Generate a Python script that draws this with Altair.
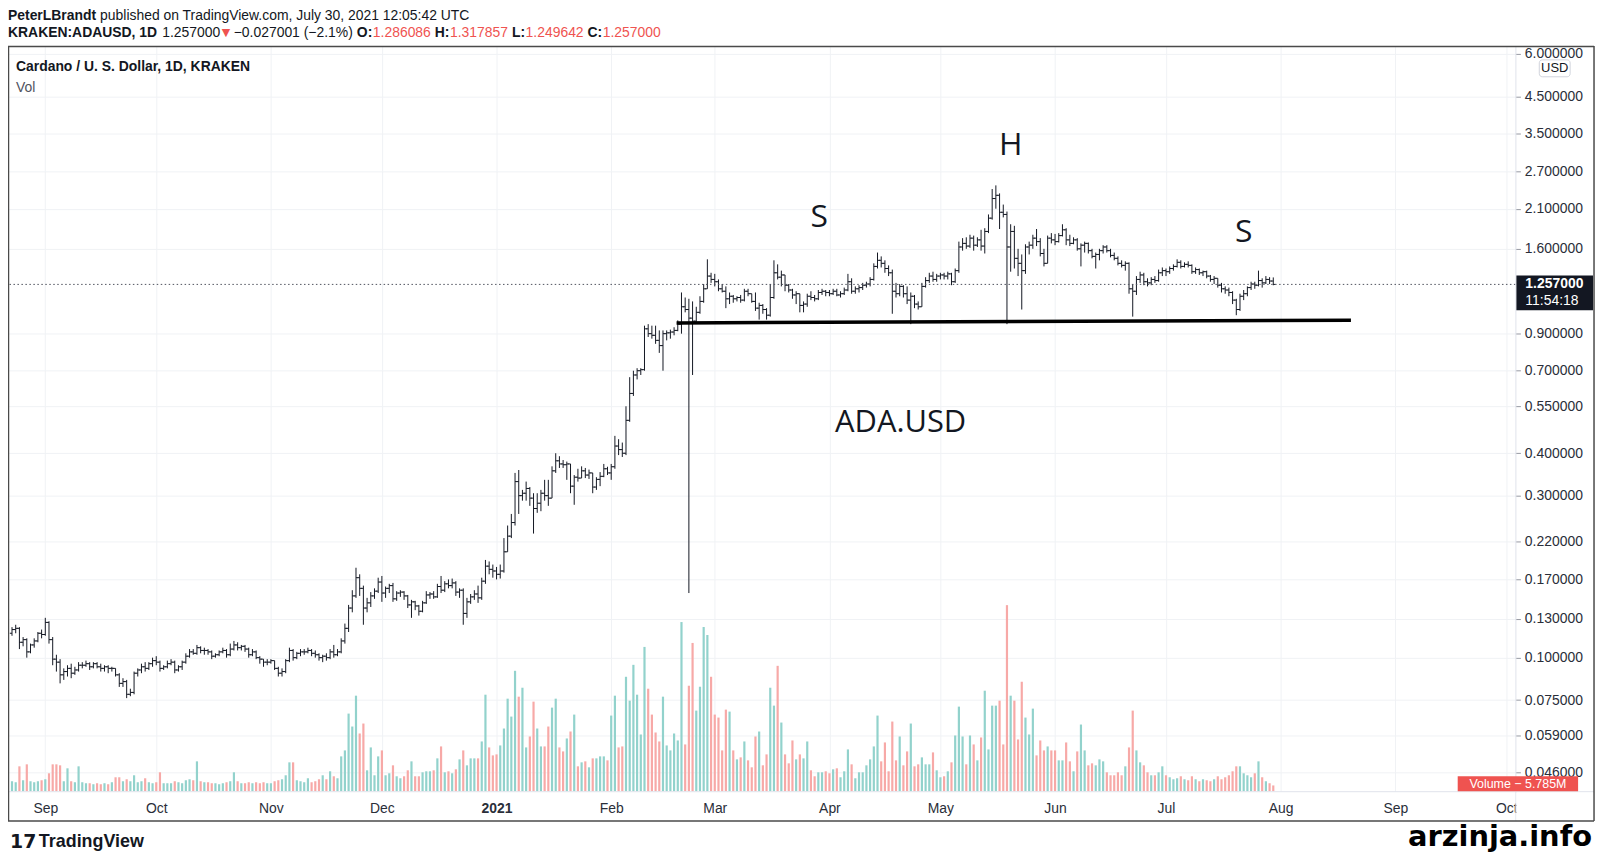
import altair as alt
import pandas as pd

# ---------------- values ----------------
START_DATE = "2020-08-23"
FIRST_OPEN = 0.118

CLOSE = [
    # Aug 23-31 2020
    0.121, 0.122, 0.111, 0.113, 0.104, 0.109, 0.112, 0.118, 0.117,
    # Sep
    0.127, 0.113, 0.099, 0.097, 0.089, 0.091, 0.093, 0.090, 0.092, 0.095,
    0.095, 0.096, 0.094, 0.096, 0.094, 0.093, 0.094, 0.093, 0.093, 0.089,
    0.084, 0.085, 0.078, 0.079, 0.090, 0.092, 0.094, 0.093, 0.096, 0.098,
    # Oct
    0.097, 0.093, 0.094, 0.096, 0.097, 0.092, 0.094, 0.097, 0.101, 0.104,
    0.103, 0.107, 0.105, 0.105, 0.104, 0.101, 0.102, 0.104, 0.105, 0.102,
    0.106, 0.109, 0.107, 0.108, 0.106, 0.102, 0.104, 0.100, 0.099, 0.097, 0.097,
    # Nov
    0.098, 0.093, 0.090, 0.091, 0.098, 0.105, 0.100, 0.103, 0.104, 0.104,
    0.105, 0.103, 0.102, 0.100, 0.101, 0.100, 0.104, 0.102, 0.104, 0.112,
    0.122, 0.140, 0.152, 0.172, 0.160, 0.140, 0.145, 0.152, 0.157, 0.167,
    # Dec
    0.155, 0.160, 0.163, 0.149, 0.155, 0.156, 0.152, 0.143, 0.146, 0.142,
    0.137, 0.145, 0.153, 0.154, 0.151, 0.162, 0.158, 0.165, 0.163, 0.166,
    0.156, 0.158, 0.135, 0.146, 0.151, 0.154, 0.150, 0.168, 0.186, 0.182, 0.180,
    # Jan 2021
    0.176, 0.180, 0.205, 0.228, 0.250, 0.330, 0.300, 0.305, 0.315, 0.295,
    0.275, 0.285, 0.305, 0.300, 0.295, 0.355, 0.380, 0.372, 0.370, 0.372,
    0.320, 0.340, 0.338, 0.355, 0.345, 0.350, 0.318, 0.335, 0.342, 0.360, 0.350,
    # Feb
    0.365, 0.420, 0.410, 0.400, 0.500, 0.600, 0.680, 0.700, 0.705, 0.930,
    0.900, 0.890, 0.860, 0.830, 0.900, 0.905, 0.910, 0.920, 0.960, 1.080,
    1.060, 1.000, 0.980, 1.040, 1.120, 1.220, 1.330, 1.300,
    # Mar
    1.28, 1.22, 1.20, 1.14, 1.16, 1.14, 1.15, 1.13, 1.20, 1.18,
    1.12, 1.07, 1.09, 1.06, 1.02, 1.15, 1.36, 1.32, 1.34, 1.25,
    1.21, 1.17, 1.18, 1.09, 1.10, 1.16, 1.15, 1.14, 1.19, 1.20, 1.19,
    # Apr
    1.18, 1.20, 1.17, 1.18, 1.21, 1.28, 1.20, 1.22, 1.23, 1.25,
    1.26, 1.30, 1.42, 1.48, 1.45, 1.40, 1.36, 1.20, 1.18, 1.24,
    1.18, 1.13, 1.16, 1.10, 1.08, 1.24, 1.29, 1.33, 1.30, 1.33,
    # May
    1.34, 1.33, 1.35, 1.28, 1.38, 1.62, 1.66, 1.63, 1.72, 1.64,
    1.70, 1.63, 1.80, 1.97, 2.25, 2.30, 2.05, 2.02, 1.62, 1.80,
    1.50, 1.45, 1.38, 1.62, 1.64, 1.72, 1.68, 1.55, 1.45, 1.72, 1.70,
    # Jun
    1.68, 1.75, 1.82, 1.70, 1.66, 1.70, 1.60, 1.64, 1.66, 1.58,
    1.52, 1.54, 1.58, 1.62, 1.58, 1.53, 1.50, 1.45, 1.43, 1.45,
    1.22, 1.20, 1.30, 1.34, 1.28, 1.27, 1.30, 1.29, 1.36, 1.38,
    # Jul
    1.37, 1.40, 1.42, 1.46, 1.42, 1.44, 1.43, 1.37, 1.39, 1.36,
    1.37, 1.33, 1.30, 1.31, 1.25, 1.22, 1.21, 1.19, 1.13, 1.06,
    1.16, 1.18, 1.23, 1.26, 1.25, 1.29, 1.27, 1.30, 1.286086, 1.257,
]

HIGH = [
    0.123, 0.125, 0.123, 0.115, 0.114, 0.110, 0.114, 0.119, 0.121,
    0.131, 0.128, 0.115, 0.102, 0.099, 0.093, 0.095, 0.096, 0.094, 0.097,
    0.097, 0.098, 0.097, 0.097, 0.097, 0.096, 0.095, 0.095, 0.094, 0.093,
    0.090, 0.087, 0.086, 0.081, 0.091, 0.093, 0.096, 0.097, 0.097, 0.100,
    0.101, 0.098, 0.095, 0.098, 0.099, 0.098, 0.095, 0.098, 0.103, 0.106,
    0.106, 0.109, 0.108, 0.107, 0.106, 0.105, 0.103, 0.105, 0.107, 0.106,
    0.110, 0.112, 0.111, 0.109, 0.109, 0.107, 0.106, 0.105, 0.101, 0.099, 0.099,
    0.099, 0.098, 0.094, 0.093, 0.099, 0.107, 0.106, 0.104, 0.106, 0.106,
    0.107, 0.106, 0.105, 0.103, 0.102, 0.103, 0.106, 0.109, 0.106, 0.114,
    0.126, 0.143, 0.158, 0.184, 0.176, 0.163, 0.150, 0.156, 0.160, 0.172,
    0.174, 0.162, 0.165, 0.166, 0.157, 0.158, 0.157, 0.153, 0.148, 0.147,
    0.143, 0.147, 0.157, 0.156, 0.157, 0.165, 0.174, 0.168, 0.170, 0.171,
    0.168, 0.160, 0.160, 0.150, 0.154, 0.158, 0.163, 0.172, 0.194, 0.192, 0.188,
    0.185, 0.188, 0.225, 0.245, 0.265, 0.350, 0.357, 0.312, 0.330, 0.318,
    0.305, 0.305, 0.312, 0.334, 0.334, 0.366, 0.400, 0.392, 0.382, 0.378,
    0.372, 0.345, 0.360, 0.366, 0.362, 0.358, 0.350, 0.340, 0.352, 0.372, 0.365,
    0.372, 0.450, 0.440, 0.430, 0.550, 0.670, 0.700, 0.712, 0.712, 0.950,
    0.960, 0.950, 0.950, 0.920, 0.920, 0.920, 0.925, 0.940, 0.985, 1.190,
    1.150, 1.140, 1.120, 1.080, 1.160, 1.260, 1.490, 1.360,
    1.35, 1.30, 1.26, 1.24, 1.19, 1.17, 1.16, 1.17, 1.22, 1.22,
    1.18, 1.19, 1.11, 1.10, 1.07, 1.26, 1.48, 1.44, 1.38, 1.33,
    1.26, 1.22, 1.20, 1.18, 1.12, 1.18, 1.20, 1.17, 1.21, 1.22, 1.21,
    1.21, 1.22, 1.22, 1.20, 1.23, 1.35, 1.31, 1.24, 1.25, 1.27,
    1.28, 1.32, 1.45, 1.56, 1.52, 1.48, 1.43, 1.39, 1.27, 1.26,
    1.25, 1.24, 1.19, 1.17, 1.12, 1.27, 1.32, 1.36, 1.37, 1.35,
    1.36, 1.36, 1.37, 1.36, 1.40, 1.68, 1.72, 1.73, 1.76, 1.75,
    1.73, 1.82, 1.84, 2.02, 2.40, 2.46, 2.33, 2.16, 2.06, 1.89,
    1.87, 1.60, 1.54, 1.65, 1.68, 1.76, 1.83, 1.72, 1.60, 1.75, 1.78,
    1.77, 1.78, 1.89, 1.84, 1.76, 1.73, 1.72, 1.66, 1.68, 1.67,
    1.60, 1.56, 1.60, 1.64, 1.64, 1.60, 1.56, 1.52, 1.48, 1.47,
    1.46, 1.26, 1.33, 1.37, 1.36, 1.31, 1.32, 1.33, 1.39, 1.41,
    1.40, 1.42, 1.44, 1.49, 1.48, 1.46, 1.47, 1.44, 1.41, 1.40,
    1.38, 1.38, 1.34, 1.33, 1.31, 1.27, 1.24, 1.23, 1.20, 1.14,
    1.18, 1.21, 1.24, 1.28, 1.28, 1.38, 1.31, 1.33, 1.32, 1.317857,
]

LOW = [
    0.116, 0.118, 0.106, 0.108, 0.100, 0.103, 0.107, 0.111, 0.114,
    0.116, 0.110, 0.095, 0.091, 0.084, 0.086, 0.088, 0.087, 0.089, 0.091,
    0.093, 0.094, 0.092, 0.093, 0.093, 0.091, 0.091, 0.090, 0.091, 0.088,
    0.082, 0.082, 0.076, 0.077, 0.078, 0.088, 0.090, 0.091, 0.092, 0.094,
    0.095, 0.091, 0.092, 0.093, 0.095, 0.090, 0.091, 0.092, 0.096, 0.100,
    0.102, 0.102, 0.103, 0.102, 0.102, 0.099, 0.100, 0.101, 0.103, 0.100,
    0.101, 0.105, 0.105, 0.105, 0.104, 0.100, 0.101, 0.099, 0.096, 0.094, 0.095,
    0.096, 0.092, 0.088, 0.088, 0.090, 0.097, 0.098, 0.099, 0.101, 0.102,
    0.103, 0.101, 0.100, 0.098, 0.097, 0.098, 0.099, 0.100, 0.101, 0.103,
    0.110, 0.119, 0.136, 0.150, 0.152, 0.125, 0.136, 0.141, 0.149, 0.155,
    0.146, 0.150, 0.155, 0.146, 0.147, 0.151, 0.148, 0.140, 0.131, 0.138,
    0.133, 0.136, 0.144, 0.149, 0.149, 0.150, 0.155, 0.156, 0.160, 0.160,
    0.152, 0.150, 0.125, 0.131, 0.144, 0.148, 0.145, 0.148, 0.165, 0.176, 0.172,
    0.170, 0.171, 0.178, 0.205, 0.225, 0.245, 0.265, 0.290, 0.290, 0.280,
    0.232, 0.267, 0.270, 0.290, 0.280, 0.300, 0.350, 0.362, 0.362, 0.334,
    0.305, 0.282, 0.330, 0.338, 0.338, 0.336, 0.305, 0.312, 0.320, 0.340, 0.345,
    0.334, 0.360, 0.395, 0.390, 0.395, 0.495, 0.590, 0.660, 0.680, 0.700,
    0.880, 0.870, 0.840, 0.790, 0.700, 0.860, 0.870, 0.890, 0.915, 0.900,
    1.040, 0.155, 0.680, 0.975, 1.030, 1.110, 1.220, 1.270,
    1.24, 1.20, 1.19, 1.07, 1.10, 1.11, 1.12, 1.11, 1.12, 1.16,
    1.11, 1.05, 0.99, 1.03, 0.99, 1.01, 1.14, 1.30, 1.24, 1.20,
    1.19, 1.14, 1.10, 1.04, 1.04, 1.08, 1.13, 1.12, 1.13, 1.17, 1.16,
    1.16, 1.17, 1.16, 1.15, 1.17, 1.20, 1.18, 1.18, 1.19, 1.21,
    1.23, 1.24, 1.29, 1.40, 1.41, 1.36, 1.33, 1.03, 1.15, 1.16,
    1.15, 1.10, 0.96, 1.07, 1.06, 1.08, 1.23, 1.27, 1.28, 1.28,
    1.30, 1.30, 1.30, 1.25, 1.27, 1.36, 1.58, 1.60, 1.61, 1.58,
    1.62, 1.58, 1.55, 1.78, 1.95, 2.10, 1.83, 1.98, 0.96, 1.37,
    1.40, 1.33, 1.06, 1.35, 1.54, 1.60, 1.63, 1.52, 1.42, 1.45, 1.66,
    1.64, 1.67, 1.74, 1.64, 1.63, 1.65, 1.58, 1.42, 1.56, 1.55,
    1.50, 1.40, 1.48, 1.55, 1.56, 1.51, 1.48, 1.43, 1.41, 1.38,
    1.18, 1.01, 1.17, 1.27, 1.25, 1.24, 1.25, 1.27, 1.28, 1.33,
    1.33, 1.35, 1.38, 1.41, 1.40, 1.41, 1.41, 1.35, 1.35, 1.34,
    1.33, 1.31, 1.28, 1.26, 1.23, 1.19, 1.18, 1.16, 1.10, 1.02,
    1.05, 1.13, 1.16, 1.21, 1.22, 1.24, 1.23, 1.26, 1.26, 1.249642,
]

# daily volume, millions
VOLUME_M = [
    10, 9, 25, 11, 27, 10, 9, 10, 11,
    12, 18, 27, 27, 26, 10, 23, 10, 9, 25, 9, 8, 8, 7, 8, 7, 8, 7, 9, 14,
    14, 10, 12, 10, 16, 9, 10, 13, 9, 8,
    9, 19, 8, 8, 8, 10, 9, 8, 11, 12, 11, 30, 10, 9, 9, 8, 8, 7, 8, 9,
    10, 19, 10, 8, 8, 9, 8, 9, 8, 9, 8,
    8, 10, 11, 12, 16, 29, 29, 11, 10, 9, 13, 9, 10, 12, 16, 12, 20, 15, 13, 35,
    41, 78, 65, 96, 58, 68, 21, 44, 16, 35,
    41, 16, 18, 26, 15, 13, 15, 21, 30, 15, 15, 19, 20, 20, 21, 33, 45, 19, 20, 18,
    22, 32, 41, 26, 33, 33, 33, 50, 97, 44, 36,
    37, 46, 63, 93, 75, 121, 95, 104, 44, 55, 90, 63, 45, 45, 65, 84, 93, 44, 40, 53,
    60, 77, 25, 29, 30, 24, 33, 33, 35, 35, 31,
    76, 96, 44, 45, 115, 91, 127, 97, 57, 145, 103, 77, 59, 50, 95, 46, 41, 58, 51, 170,
    47, 106, 149, 81, 105, 165, 157, 115,
    77, 74, 41, 82, 80, 41, 32, 34, 50, 31, 24, 55, 60, 26, 37, 104, 86, 126, 69, 37,
    28, 51, 32, 37, 33, 50, 21, 15, 19, 19, 20,
    18, 22, 23, 14, 20, 42, 27, 13, 19, 19, 26, 32, 45, 76, 30, 49, 20, 70, 31, 55,
    26, 40, 68, 25, 27, 34, 27, 27, 39, 21,
    14, 15, 20, 29, 56, 85, 55, 27, 56, 47, 31, 54, 101, 42, 86, 86, 91, 47, 187, 96,
    91, 52, 110, 74, 57, 83, 36, 51, 41, 45, 41,
    41, 31, 31, 49, 30, 20, 40, 67, 41, 26, 28, 26, 32, 30, 19, 16, 16, 19, 16, 25,
    44, 81, 41, 29, 26, 19, 16, 16, 19, 25,
    16, 14, 12, 13, 15, 12, 11, 15, 12, 10, 12, 11, 10, 12, 15, 12, 14, 16, 20, 25,
    25, 18, 16, 14, 18, 30, 14, 10, 8, 5.785,
]

PRICE_TICKS = [6.0, 4.5, 3.5, 2.7, 2.1, 1.6, 0.9, 0.7, 0.55, 0.4, 0.3, 0.22,
               0.17, 0.13, 0.1, 0.075, 0.059, 0.046]
MONTH_TICKS = ["2020-09-01", "2020-10-01", "2020-11-01", "2020-12-01", "2021-01-01",
               "2021-02-01", "2021-03-01", "2021-04-01", "2021-05-01", "2021-06-01",
               "2021-07-01", "2021-08-01", "2021-09-01", "2021-10-01"]

LAST_PRICE = 1.257
NECK_DATES = ["2021-02-18T16:00:00", "2021-08-20T00:00:00"]
NECK_PRICES = [0.968, 0.986]
PATTERN_LABELS = ["S", "H", "S"]
PATTERN_DATES = ["2021-03-29T06:00:00", "2021-05-20T00:00:00", "2021-07-22T00:00:00"]
PATTERN_PRICES = [1.99, 3.24, 1.79]
TICKER_LABEL = "ADA.USD"
TICKER_DATE = "2021-04-20T06:00:00"
TICKER_PRICE = 0.49

# ---------------- layout ----------------
W, H = 1515, 749          # pane (plot area)
FRAME_R, FRAME_B = 1594, 779
X_DOMAIN = ["2020-08-23T06:16:00", "2021-10-02T02:53:00"]
Y_DOMAIN = [0.04043, 6.333]
INK = "#131722"
RED = "#ef5350"
GRID = "#f0f2f5"
FONT = "Liberation Sans"


def ms(s):
    return int(pd.Timestamp(s, tz="UTC").value // 10**6)


n = min(len(CLOSE), len(HIGH), len(LOW), len(VOLUME_M))
dates = pd.date_range(START_DATE, periods=n, freq="D", tz="UTC")
opens = [FIRST_OPEN] + CLOSE[: n - 1]
rows = []
for i in range(n):
    o, c = opens[i], CLOSE[i]
    rows.append({
        "t": int(dates[i].value // 10**6),
        "open": o, "close": c,
        "high": max(HIGH[i], o, c), "low": min(LOW[i], o, c),
        "vol": VOLUME_M[i],
        "dir": "up" if c >= o else "down",
    })
df = pd.DataFrame(rows)

x_scale = alt.Scale(type="utc", domain=[ms(d) for d in X_DOMAIN])
p_scale = alt.Scale(type="log", domain=Y_DOMAIN, nice=False, zero=False)
v_scale = alt.Scale(domain=[0, H], nice=False, zero=True)

x_axis = alt.Axis(
    values=[ms(d) for d in MONTH_TICKS],
    labelExpr="utcmonth(datum.value) == 0 ? utcFormat(datum.value, '%Y') : utcFormat(datum.value, '%b')",
    labelFontWeight={"condition": {"test": "utcmonth(datum.value) == 0", "value": "bold"}, "value": "normal"},
    grid=True, gridColor=GRID, gridWidth=1, domain=False, ticks=False,
    labelPadding=10, labelFont=FONT, labelFontSize=14, labelColor="#2a2e39",
    labelOverlap=False, labelFlush=False, title=None, zindex=0,
)
p_axis = alt.Axis(
    orient="right", values=PRICE_TICKS, format=".6f", grid=True, gridColor=GRID,
    domain=False, tickSize=5, tickColor="#9598a1", labelPadding=4,
    labelFont=FONT, labelFontSize=14, labelColor="#2a2e39",
    labelOverlap=False, labelFlush=False, title=None, zindex=0,
)

X = alt.X("t:T", scale=x_scale, axis=x_axis)
base = alt.Chart(df)

volume = base.mark_bar(width=2.2).encode(
    x=X,
    y=alt.Y("vol:Q", scale=v_scale, axis=None),
    color=alt.Color("dir:N", scale=alt.Scale(domain=["up", "down"], range=["#92d2cc", "#f7a9a7"]), legend=None),
)
hl = base.mark_rule(color=INK, strokeWidth=1).encode(
    x=X, y=alt.Y("low:Q", scale=p_scale, axis=p_axis), y2="high:Q")
op = base.mark_rule(color=INK, strokeWidth=1, xOffset=-2.2, x2Offset=0).encode(
    x=X, x2=alt.X2("t"), y=alt.Y("open:Q", scale=p_scale, axis=None))
cl = base.mark_rule(color=INK, strokeWidth=1, xOffset=0, x2Offset=2.2).encode(
    x=X, x2=alt.X2("t"), y=alt.Y("close:Q", scale=p_scale, axis=None))

last_df = pd.DataFrame({"p": [LAST_PRICE]})
last_line = alt.Chart(last_df).mark_rule(color="#50535e", strokeDash=[1.5, 2.5], strokeWidth=1).encode(
    y=alt.Y("p:Q", scale=p_scale, axis=None))

neck_df = pd.DataFrame({"t": [ms(d) for d in NECK_DATES], "p": NECK_PRICES})
neck = alt.Chart(neck_df).mark_line(color="#000000", strokeWidth=3.5).encode(
    x=X, y=alt.Y("p:Q", scale=p_scale, axis=None))

pat_df = pd.DataFrame({"t": [ms(d) for d in PATTERN_DATES], "p": PATTERN_PRICES, "label": PATTERN_LABELS})
pattern = alt.Chart(pat_df).mark_text(font="Open Sans", fontSize=32, color=INK).encode(
    x=X, y=alt.Y("p:Q", scale=p_scale, axis=None), text="label:N")
tick_df = pd.DataFrame({"t": [ms(TICKER_DATE)], "p": [TICKER_PRICE], "label": [TICKER_LABEL]})
ticker = alt.Chart(tick_df).mark_text(font="Open Sans", fontSize=31, color=INK).encode(
    x=X, y=alt.Y("p:Q", scale=p_scale, axis=None), text="label:N")

one = pd.DataFrame({"k": [0]})


def txt(s, x, y, size=14, bold=False, color=INK, font=FONT, align="left", baseline="middle"):
    return alt.Chart(one).mark_text(
        text=s, font=font, fontSize=size, fontWeight="bold" if bold else "normal",
        color=color, align=align, baseline=baseline,
    ).encode(x=alt.value(x), y=alt.value(y))


def hline(x1, x2, y, color, w=1.0):
    return alt.Chart(one).mark_rule(color=color, strokeWidth=w).encode(
        x=alt.value(x1), x2=alt.value(x2), y=alt.value(y))


def vline(x, y1, y2, color, w=1.0):
    return alt.Chart(one).mark_rule(color=color, strokeWidth=w).encode(
        x=alt.value(x), y=alt.value(y1), y2=alt.value(y2))


# Arial-metric widths (per 1000 em) for placing mixed-weight header pieces
REG_W = {" ": 278, ",": 278, ".": 278, ":": 278, "(": 333, ")": 333, "%": 889, "\u2212": 584,
         "a": 556, "b": 556, "c": 500, "d": 556, "e": 556, "g": 556, "h": 556, "i": 222,
         "l": 222, "m": 833, "n": 556, "o": 556, "p": 556, "r": 333, "s": 500, "u": 556,
         "w": 722, "y": 500, "T": 611, "V": 667, "J": 500, "U": 722, "C": 722}
BOLD_W = {" ": 278, ",": 278, ":": 333, "P": 667, "e": 556, "t": 333, "r": 389, "L": 611,
          "B": 722, "a": 556, "n": 611, "d": 611, "K": 722, "R": 722, "A": 722, "E": 667,
          "N": 722, "D": 722, "U": 722, "S": 667, "O": 778, "H": 722, "C": 722}


def tw(s, size, bold=False):
    table = BOLD_W if bold else REG_W
    return sum(table.get(ch, 556) for ch in s) * size / 1000.0


HS = 14
SP = 278 * HS / 1000.0
header = []
# line 1
x = 0.0
header.append(txt("PeterLBrandt", x, -30, HS, True))
x += tw("PeterLBrandt", HS, True) + SP
header.append(txt("published on TradingView.com, July 30, 2021 12:05:42 UTC", x, -30, HS))
# line 2
pieces = [
    ("KRAKEN:ADAUSD, 1D", True, INK, SP + 1),
    ("1.257000", False, INK, 1.5),
    ("\u25bc", False, RED, 2),
    ("\u22120.027001 (\u22122.1%)", False, INK, SP),
    ("O:", True, INK, 0.5), ("1.286086", False, RED, SP),
    ("H:", True, INK, 0.5), ("1.317857", False, RED, SP),
    ("L:", True, INK, 0.5), ("1.249642", False, RED, SP),
    ("C:", True, INK, 0.5), ("1.257000", False, RED, 0),
]
x = 0.0
for s, b, col, gap in pieces:
    if s == "\u25bc":
        header.append(txt(s, x, -13, 11, False, col, font="DejaVu Sans"))
        x += 10 + gap
    else:
        header.append(txt(s, x, -13, HS, b, col))
        x += tw(s, HS, b) + gap

inside = [
    txt("Cardano / U. S. Dollar, 1D, KRAKEN", 8, 21, HS, True),
    txt("Vol", 8, 42, HS, False, "#50535e"),
]

# frame and separators
frame = [
    vline(W + 0.5, 0, FRAME_B, "#e0e3eb"),
    hline(0, FRAME_R, H + 0.5, "#e0e3eb"),
    hline(0, FRAME_R, 0.5, "#4a4a4a", 1.5),
    hline(0, FRAME_R, FRAME_B, "#4a4a4a", 1.5),
    vline(0.5, 0, FRAME_B, "#4a4a4a", 1.5),
    vline(FRAME_R, 0, FRAME_B, "#4a4a4a", 1.5),
]

# cover for the clipped last time label
cover = alt.Chart(one).mark_rect(color="white").encode(
    x=alt.value(W + 1), x2=alt.value(FRAME_R - 1), y=alt.value(H + 1.5), y2=alt.value(FRAME_B - 1))

# last price label on the price axis
last_box = alt.Chart(last_df).mark_rect(color=INK, yOffset=-9, y2Offset=26).encode(
    x=alt.value(W + 1), x2=alt.value(FRAME_R - 1),
    y=alt.Y("p:Q", scale=p_scale, axis=None), y2=alt.Y2("p"))
last_txt1 = alt.Chart(last_df).mark_text(
    text="1.257000", font=FONT, fontSize=14, fontWeight="bold", color="white",
    align="left", baseline="middle").encode(
    x=alt.value(W + 10), y=alt.Y("p:Q", scale=p_scale, axis=None))
last_txt2 = alt.Chart(last_df).mark_text(
    text="11:54:18", font=FONT, fontSize=14, color="white", align="left", baseline="middle", dy=17).encode(
    x=alt.value(W + 10), y=alt.Y("p:Q", scale=p_scale, axis=None))

usd_box = alt.Chart(one).mark_rect(color="white", stroke="#d1d4dc", strokeWidth=1, cornerRadius=3).encode(
    x=alt.value(1539), x2=alt.value(1570), y=alt.value(14), y2=alt.value(31))
usd_txt = txt("USD", 1554.5, 22.5, 13, False, INK, align="center")

vol_box = alt.Chart(one).mark_rect(color=RED).encode(
    x=alt.value(1457), x2=alt.value(1578), y=alt.value(H - 15), y2=alt.value(H))
vol_txt = txt("Volume  \u2212  5.785M", 1517.5, H - 7.5, 12.5, False, "white", align="center")

footer = [
    txt("17", 2, 800, 19, True, INK, font="DejaVu Sans"),
    txt("TradingView", 31, 800, 18, True, INK),
    txt("arzinja.info", 1592, 804, 29, True, "#000000", font="DejaVu Sans", align="right",
        baseline="alphabetic"),
]

layers = [volume, hl, op, cl, last_line, neck, pattern, ticker] + inside + header + frame + \
         [cover, last_box, last_txt1, last_txt2, usd_box, usd_txt, vol_box, vol_txt] + footer

chart = alt.layer(*layers).resolve_scale(y="independent").properties(
    width=W, height=H,
    autosize=alt.AutoSizeParams(type="none"),
    padding={"left": 0, "top": 36, "right": 83, "bottom": 65},
    background="white",
).configure_view(stroke=None)

chart.save("out.html", embed_options={"renderer": "svg", "actions": False})
